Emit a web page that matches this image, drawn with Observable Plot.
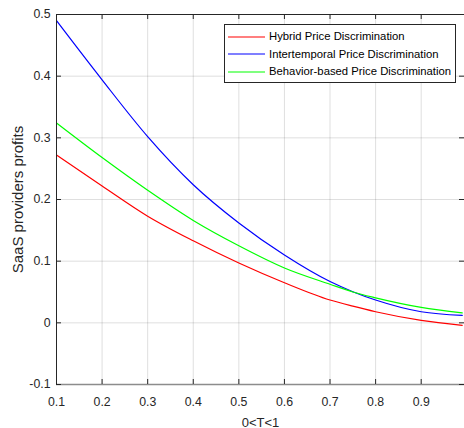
<!DOCTYPE html>
<html>
<head>
<meta charset="utf-8">
<script src="https://cdn.jsdelivr.net/npm/d3@7"></script>
<script src="https://cdn.jsdelivr.net/npm/@observablehq/plot@0.6"></script>
<style>
  html, body { margin: 0; padding: 0; background: #fff; }
  #wrap { position: relative; width: 464px; height: 428px; font-family: "Liberation Sans", Arial, sans-serif; }
  #legend { position: absolute; background: #fff; border: 1px solid #262626; box-sizing: border-box; }
  .sw { position: absolute; left: 3px; width: 37px; height: 6px; overflow: visible; }
  .lab { position: absolute; left: 44px; font-size: 11.3px; line-height: 14px; color: #000; white-space: nowrap; }
</style>
</head>
<body>
<div id="wrap"></div>
<script>
// ---- data ----
const T = [0.1, 0.2, 0.3, 0.4, 0.5, 0.6, 0.7, 0.75, 0.8, 0.9, 0.99];
const hybrid        = [0.272, 0.222, 0.173, 0.133, 0.097, 0.065, 0.037, 0.027, 0.018, 0.004, -0.004];
const intertemporal = [0.490, 0.394, 0.302, 0.224, 0.162, 0.110, 0.067, 0.0505, 0.037, 0.018, 0.012];
const behavior      = [0.324, 0.268, 0.215, 0.166, 0.125, 0.089, 0.0625, 0.050, 0.0405, 0.025, 0.016];
const seriesNames  = ["Hybrid Price Discrimination", "Intertemporal Price Discrimination", "Behavior-based Price Discrimination"];
const seriesColors = ["#ff0000", "#0000ff", "#00ff00"];
const seriesValues = [hybrid, intertemporal, behavior];
const xTicks = [0.1, 0.2, 0.3, 0.4, 0.5, 0.6, 0.7, 0.8, 0.9];
const yTicks = [-0.1, 0, 0.1, 0.2, 0.3, 0.4, 0.5];
const xDomain = [0.1, 0.995];
const yDomain = [-0.1, 0.5];
const xLabel = "0<T<1";
const yLabel = "SaaS providers profits";

// ---- layout ----
const W = 464, H = 428;
const mL = 56, mR = 0, mT = 14, mB = 44;
const plotW = W - mL - mR, plotH = H - mT - mB;
const tickLen = 5;

const rows = [];
seriesNames.forEach((name, i) => {
  T.forEach((t, j) => rows.push({T: t, v: seriesValues[i][j], s: name}));
});

const fmt = d => String(Math.round(d * 10) / 10);
const axisFont = {fontSize: 12.3, fill: "#262626"};

const chart = Plot.plot({
  width: W, height: H,
  marginLeft: mL, marginRight: mR, marginTop: mT, marginBottom: mB,
  style: {fontFamily: "'Liberation Sans', Arial, sans-serif", fontSize: "12px", background: "#fff"},
  x: {domain: xDomain, label: null},
  y: {domain: yDomain, label: null},
  color: {domain: seriesNames, range: seriesColors},
  marks: [
    Plot.gridX(xTicks, {stroke: "#262626", strokeOpacity: 0.15}),
    Plot.gridY(yTicks, {stroke: "#262626", strokeOpacity: 0.15}),
    Plot.line(rows, {x: "T", y: "v", z: "s", stroke: "s", strokeWidth: 1.2, curve: "monotone-x"}),
    // frame lines
    Plot.ruleY([yDomain[1]], {stroke: "#262626", strokeWidth: 1}),
    Plot.ruleX([xDomain[0]], {stroke: "#262626", strokeWidth: 1}),
    Plot.ruleY([yDomain[0]], {stroke: "#8c8c8c", strokeWidth: 1.6}),
    // inward tick marks
    Plot.ruleX(xTicks, {x: d => d, insetTop: plotH - tickLen, stroke: "#262626"}),
    Plot.ruleX(xTicks, {x: d => d, insetBottom: plotH - tickLen, stroke: "#262626"}),
    Plot.ruleY(yTicks, {y: d => d, insetRight: plotW - tickLen, stroke: "#262626"}),
    Plot.ruleY(yTicks, {y: d => d, insetLeft: plotW - tickLen, stroke: "#262626"}),
    // tick labels + axis titles
    Plot.axisX(xTicks, {anchor: "bottom", tickSize: 0, tickPadding: 13, tickFormat: fmt, ...axisFont,
      label: xLabel, labelAnchor: "center", labelArrow: "none", labelOffset: 42}),
    Plot.axisY(yTicks, {anchor: "left", tickSize: 0, tickPadding: 6, tickFormat: fmt, ...axisFont,
      label: yLabel, labelAnchor: "center", labelArrow: "none", labelOffset: 44})
  ]
});

const wrap = document.getElementById("wrap");
wrap.appendChild(chart);

// axis title font sizes
d3.select(chart).selectAll('[aria-label="x-axis label"] text').style("font-size", "13px").attr("fill", "#262626");
d3.select(chart).selectAll('[aria-label="y-axis label"] text').style("font-size", "15px").attr("fill", "#262626");

// ---- legend (HTML overlay) ----
const leg = d3.select(wrap).append("div").attr("id", "legend")
  .style("left", "224px").style("top", "24px").style("width", "232px").style("height", "59px");
seriesNames.forEach((name, i) => {
  const top = 11.5 + i * 17.6;
  const sw = leg.append("svg").attr("class", "sw").attr("width", 37).attr("height", 6)
    .style("top", (top - 3) + "px");
  sw.append("line").attr("x1", 0).attr("x2", 37).attr("y1", 3).attr("y2", 3)
    .attr("stroke", seriesColors[i]).attr("stroke-width", 1.2);
  leg.append("div").attr("class", "lab").style("top", (top - 7.5) + "px").text(name);
});
</script>
</body>
</html>
